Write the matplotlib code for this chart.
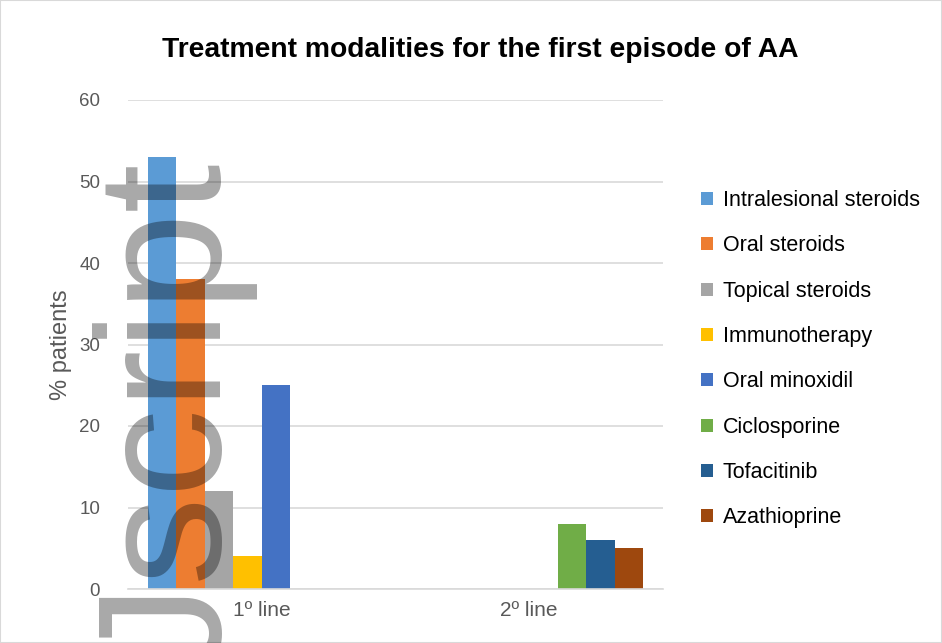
import matplotlib
matplotlib.use('Agg')
import matplotlib.pyplot as plt
import matplotlib.ticker as mticker
from matplotlib.patches import Rectangle
import numpy as np

# ── Data ─────────────────────────────────────────────────────────────────────
categories = ["1º line", "2º line"]
series = ["Intralesional steroids", "Oral steroids", "Topical steroids",
          "Immunotherapy", "Oral minoxidil", "Ciclosporine",
          "Tofacitinib", "Azathioprine"]
values_1st = [53, 38, 12, 4, 25, 0, 0, 0]
values_2nd = [0, 0, 0, 0, 0, 8, 6, 5]
colors = ["#5b9bd5", "#ed7d31", "#a5a5a5", "#ffc000",
          "#4472c4", "#70ad47", "#255e91", "#9e480e"]

FONT = "Liberation Sans"
GRID = "#d9d9d9"
TICK = "#595959"

fig = plt.figure(figsize=(9.42, 6.43), dpi=100)
fig.patch.set_facecolor("white")
ax = fig.add_axes([128 / 942, 1 - 589 / 643, (663 - 128) / 942, (589 - 100) / 643])

n = len(series)
x = np.arange(len(categories))
bw = 0.1065
for i, name in enumerate(series):
    offs = (i - (n - 1) / 2) * bw
    ax.bar(x + offs, [values_1st[i], values_2nd[i]], width=bw,
           color=colors[i], label=name, zorder=2, linewidth=0)

ax.set_xlim(-0.5, 1.5)
ax.set_ylim(0, 60)
ax.yaxis.set_major_locator(mticker.MultipleLocator(10))
ax.grid(axis="y", color=GRID, lw=1.2, zorder=0)
for s in ["top", "right", "left"]:
    ax.spines[s].set_visible(False)
ax.spines["bottom"].set_color(GRID)
ax.spines["bottom"].set_linewidth(1.2)
ax.set_xticks(x)
ax.set_xticklabels(categories)
ax.tick_params(axis="x", length=0, labelsize=15, labelcolor=TICK, pad=9)
ax.tick_params(axis="y", length=0, labelsize=13.5, labelcolor=TICK, pad=20)
for lab in ax.get_xticklabels() + ax.get_yticklabels():
    lab.set_fontfamily(FONT)
ax.set_ylabel("% patients", fontsize=17, color=TICK, family=FONT)
ax.yaxis.set_label_coords((72 - 128) / 535, 0.5)

fig.text(480 / 942, 1 - 50 / 643, "Treatment modalities for the first episode of AA",
         ha="center", va="center", fontsize=20.3, fontweight="bold", family=FONT)

ax.legend(loc="upper left", bbox_to_anchor=(701 / 942, 1 - 190 / 643),
          bbox_transform=fig.transFigure, frameon=False,
          prop={"family": FONT, "size": 15.5}, handlelength=0.55, handleheight=0.55,
          handletextpad=0.45, labelspacing=1.13, borderaxespad=0, borderpad=0)

# watermark
fig.text(218 / 942, 1 - 160 / 643, "Jscript", rotation=90, rotation_mode="anchor",
         ha="right", va="baseline", fontsize=127, family=FONT,
         color="black", alpha=0.34, zorder=10)

fig.patches.append(Rectangle((0, 0), 1, 1, transform=fig.transFigure,
                             fill=False, edgecolor=GRID, lw=1.5))

plt.savefig("out.png", dpi=100, facecolor="white")
